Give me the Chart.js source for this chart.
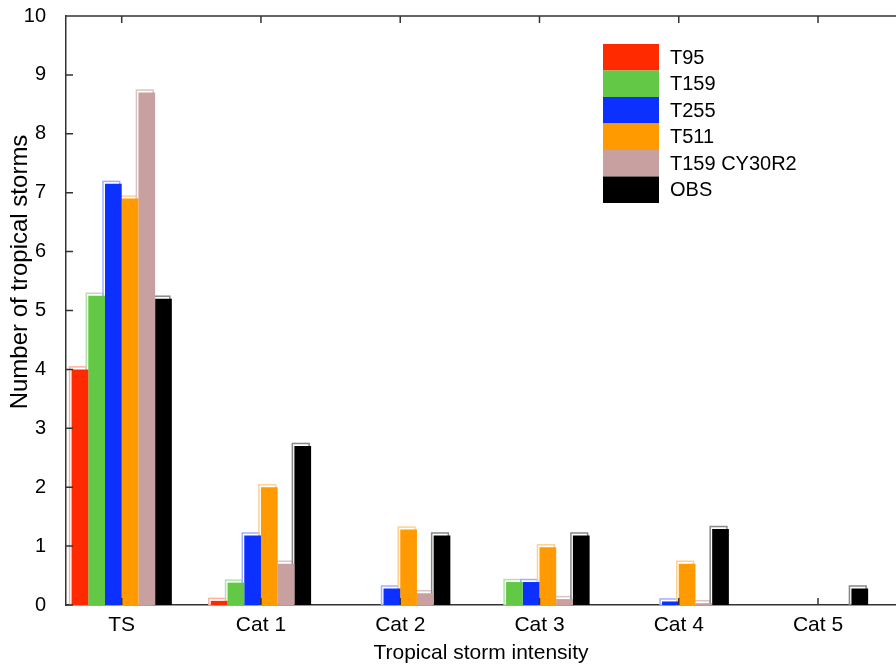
<!DOCTYPE html>
<html>
<head>
<meta charset="utf-8">
<script src="https://cdn.jsdelivr.net/npm/chart.js@4.4.0/dist/chart.umd.min.js"></script>
<style>
  html, body { margin: 0; padding: 0; background: #fff; overflow: hidden; }
  #wrap { width: 896px; height: 666px; position: relative; }
</style>
</head>
<body>
<div id="wrap"><canvas id="myChart" width="896" height="666"></canvas></div>
<script>
//---------- data ----------
const categories = ['TS', 'Cat 1', 'Cat 2', 'Cat 3', 'Cat 4', 'Cat 5'];
const seriesNames = ['T95', 'T159', 'T255', 'T511', 'T159 CY30R2', 'OBS'];
const t95 = [4.0, 0.07, 0, 0, 0, 0];
const t159 = [5.25, 0.38, 0, 0.39, 0, 0];
const t255 = [7.15, 1.18, 0.28, 0.39, 0.06, 0];
const t511 = [6.9, 2.0, 1.28, 0.98, 0.7, 0];
const t159cy = [8.7, 0.7, 0.2, 0.1, 0.03, 0];
const obs = [5.2, 2.7, 1.18, 1.18, 1.29, 0.28];
const yTicks = [0, 1, 2, 3, 4, 5, 6, 7, 8, 9, 10];
const yTitle = 'Number of tropical storms';

const seriesValues = [t95, t159, t255, t511, t159cy, obs];
const seriesColors = ['#ff2a00', '#62c845', '#0c30ff', '#ff9a00', '#c9a0a0', '#000000'];
const edgeColors = ['#ffb0a0', '#b4e2a8', '#a0b0ff', '#ffd090', '#d8c4c4', '#888888'];

const FONT = 'Liberation Sans, Arial, sans-serif';

//---------- inward ticks + top frame line + y title ----------
const frameTicks = {
  id: 'frameTicks',
  afterDraw(chart) {
    const ctx = chart.ctx;
    const a = chart.chartArea;
    const x = chart.scales.x;
    const y = chart.scales.y;
    ctx.save();
    ctx.strokeStyle = '#333';
    ctx.lineWidth = 1.5;
    ctx.beginPath();
    ctx.moveTo(a.left, a.top);
    ctx.lineTo(a.right, a.top);
    yTicks.forEach(v => {
      const py = y.getPixelForValue(v);
      ctx.moveTo(a.left, py);
      ctx.lineTo(a.left + 7, py);
    });
    categories.forEach((c, i) => {
      const px = x.getPixelForValue(i + 1);
      ctx.moveTo(px, a.top);
      ctx.lineTo(px, a.top + 7);
      ctx.moveTo(px, a.bottom);
      ctx.lineTo(px, a.bottom - 7);
    });
    ctx.stroke();

    // axis title, a bit above the middle like the reference
    ctx.translate(20, 272);
    ctx.rotate(-Math.PI / 2);
    ctx.font = '24px ' + FONT;
    ctx.fillStyle = '#000';
    ctx.textAlign = 'center';
    ctx.textBaseline = 'middle';
    ctx.fillText(yTitle, 0, 0);
    ctx.restore();
  }
};

//---------- lighter offset outline behind each bar ----------
const barEdges = {
  id: 'barEdges',
  beforeDatasetsDraw(chart) {
    const ctx = chart.ctx;
    ctx.save();
    chart.data.datasets.forEach((ds, di) => {
      chart.getDatasetMeta(di).data.forEach(bar => {
        const h = bar.base - bar.y;
        if (h <= 0.5) return;
        const left = bar.x - bar.width / 2;
        ctx.strokeStyle = edgeColors[di];
        ctx.lineWidth = 1.5;
        ctx.strokeRect(left - 2, bar.y - 2.5, bar.width, h + 2);
      });
    });
    ctx.restore();
  }
};

//---------- legend box inside the plot ----------
const boxLegend = {
  id: 'boxLegend',
  afterDraw(chart) {
    const ctx = chart.ctx;
    ctx.save();
    ctx.font = '20px ' + FONT;
    ctx.textBaseline = 'middle';
    const x0 = 603, y0 = 44, w = 56, h = 26.5;
    chart.data.datasets.forEach((ds, i) => {
      ctx.fillStyle = ds.backgroundColor;
      ctx.fillRect(x0, y0 + i * h, w, h);
      ctx.fillStyle = '#000';
      ctx.fillText(ds.label, x0 + 67, y0 + i * h + h / 2 + 1);
    });
    ctx.restore();
  }
};

const datasets = seriesNames.map((name, i) => ({
  label: name,
  data: seriesValues[i].map((v, k) => ({ x: k + 1, y: v })),
  backgroundColor: seriesColors[i],
  borderWidth: 0,
  categoryPercentage: 0.72,
  barPercentage: 1.0
}));

const chart = new Chart(document.getElementById('myChart'), {
  type: 'bar',
  data: { datasets: datasets },
  options: {
    responsive: false,
    animation: false,
    layout: { padding: { top: 16, right: 0, left: 0, bottom: 0 } },
    plugins: {
      legend: { display: false },
      tooltip: { enabled: false }
    },
    scales: {
      x: {
        type: 'linear',
        min: 0.6,
        max: 6.56,
        offset: false,
        grid: { display: false },
        border: { display: true, color: '#333', width: 1.5 },
        afterBuildTicks: s => { s.ticks = categories.map((c, i) => ({ value: i + 1 })); },
        afterFit: s => { s.height = 61; s.paddingLeft = 0; s.paddingRight = 0; },
        ticks: {
          autoSkip: false,
          maxRotation: 0,
          padding: 0,
          color: '#000',
          font: { family: FONT, size: 21 },
          callback: v => categories[v - 1]
        },
        title: {
          display: true,
          text: 'Tropical storm intensity',
          color: '#000',
          padding: { top: 2, bottom: 0 },
          font: { family: FONT, size: 21 }
        }
      },
      y: {
        min: 0,
        max: 10,
        grid: { display: false },
        border: { display: true, color: '#333', width: 1.5 },
        afterBuildTicks: s => { s.ticks = yTicks.map(v => ({ value: v })); },
        afterFit: s => { s.width = 66; s.paddingTop = 0; s.paddingBottom = 0; },
        ticks: {
          padding: 12,
          color: '#000',
          font: { family: FONT, size: 20 }
        }
      }
    }
  },
  plugins: [barEdges, frameTicks, boxLegend]
});
</script>
</body>
</html>
